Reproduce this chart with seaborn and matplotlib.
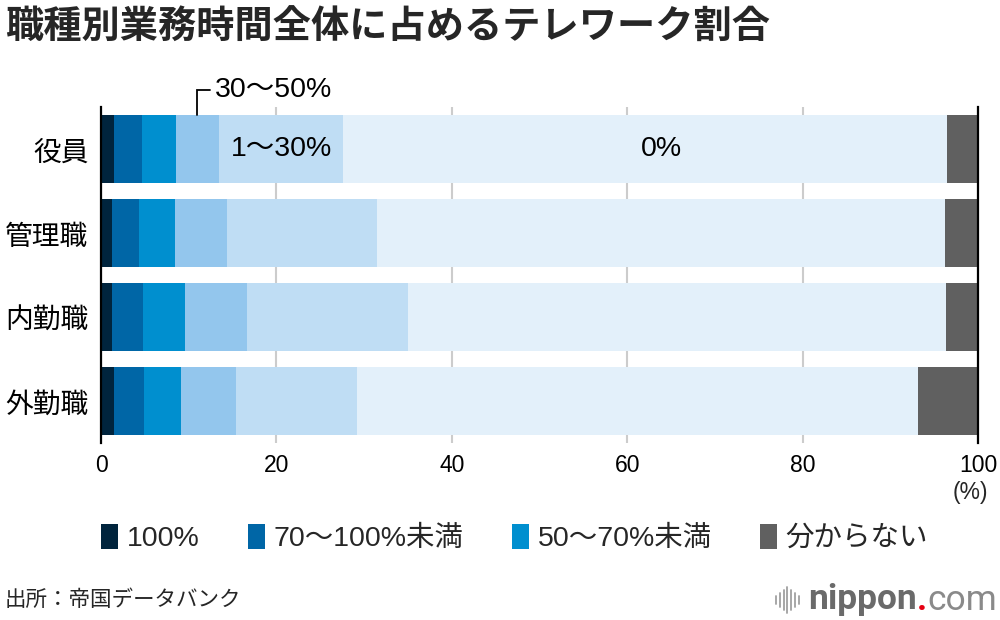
import numpy as np
import matplotlib.pyplot as plt
import seaborn as sns
from matplotlib.patches import Patch
from matplotlib.lines import Line2D

# data (%)
categories = ["役員", "管理職", "内勤職", "外勤職"]
p100 = [1.5, 1.3, 1.3, 1.5]
p70_100 = [3.2, 3.0, 3.5, 3.4]
p50_70 = [3.9, 4.1, 4.8, 4.2]
p30_50 = [4.9, 6.0, 7.1, 6.3]
p1_30 = [14.1, 17.1, 18.3, 13.8]
p0 = [68.9, 64.7, 61.4, 64.0]
unknown = [3.5, 3.8, 3.6, 6.8]

segment_labels = ["100%", "70〜100%未満", "50〜70%未満", "30〜50%", "1〜30%", "0%", "分からない"]
colors = ["#00243d", "#0066a6", "#008fcf", "#93c6ed", "#bfddf4", "#e3f0fa", "#606060"]
xticks = [0, 20, 40, 60, 80, 100]

sns.set_theme(style="white")
plt.rcParams["font.family"] = ["Liberation Sans", "Noto Sans CJK JP", "DejaVu Sans"]
jp = ["Noto Sans CJK JP", "DejaVu Sans"]

fig = plt.figure(figsize=(10, 6.2), dpi=100)
ax = fig.add_axes([0.101, 0.2855, 0.877, 0.5419])

values = np.array([p100, p70_100, p50_70, p30_50, p1_30, p0, unknown])
cum = values.cumsum(axis=0)

# stacked bars: draw cumulative totals from the longest down
for i in reversed(range(len(values))):
    sns.barplot(
        x=cum[i],
        y=categories,
        orient="h",
        color=colors[i],
        saturation=1,
        width=0.8,
        linewidth=0,
        errorbar=None,
        ax=ax,
    )

ax.set_xlim(0, 100)
ax.set_ylim(3.5, -0.5)
ax.set_xticks(xticks)
ax.set_xticklabels([str(t) for t in xticks])
ax.set_xlabel("")
ax.set_ylabel("")
ax.xaxis.grid(True, color="#cccccc", linewidth=1.5)
ax.set_axisbelow(True)
ax.tick_params(axis="x", length=0, pad=8, labelsize=16.5, labelcolor="black")
ax.tick_params(axis="y", length=0, pad=9, labelsize=20, labelcolor="black")
for lab in ax.get_yticklabels():
    lab.set_family(jp)

for side in ["top", "bottom"]:
    ax.spines[side].set_visible(False)
for side in ["left", "right"]:
    ax.spines[side].set_color("black")
    ax.spines[side].set_linewidth(1.6)

# inline segment labels on the first row
mid_1_30 = (cum[3][0] + cum[4][0]) / 2
ax.text(mid_1_30, 0, "1〜30%", ha="center", va="center", fontsize=20.5, color="black")
ax.text(63.9, 0, "0%", ha="center", va="center", fontsize=20.5, color="black")

# bracket label for 30-50%
bx = 10.9
ax.plot([bx, bx, 12.4], [-0.4, -0.70, -0.70], color="black", lw=1.3,
        clip_on=False, solid_joinstyle="miter")
ax.text(13.0, -0.70, "30〜50%", ha="left", va="center", fontsize=20.5, color="black")

fig.text(0.988, 1 - 493 / 620, "(%)", ha="right", va="center", fontsize=16.5)

# title
fig.text(0.005, 1 - 27 / 620, "職種別業務時間全体に占めるテレワーク割合",
         ha="left", va="center", fontsize=27.5, fontweight="bold", family=jp)

# legend
leg_idx = [0, 1, 2, 6]
handles = [Patch(facecolor=colors[i], edgecolor="none") for i in leg_idx]
fig.legend(
    handles,
    [segment_labels[i] for i in leg_idx],
    loc="center left",
    bbox_to_anchor=(0.101, 1 - 538 / 620),
    ncol=4,
    frameon=False,
    fontsize=20.5,
    handlelength=0.6,
    handleheight=0.95,
    handletextpad=0.3,
    columnspacing=1.7,
    borderpad=0,
    borderaxespad=0,
)

# source
fig.text(0.005, 1 - 600 / 620, "出所：帝国データバンク", ha="left", va="center",
         fontsize=15.5, family=jp)

# nippon.com mark
yc = 1 - 600 / 620
for k, h in enumerate([8, 14, 20, 26, 20, 14, 8]):
    x = (776 + k * 3.8) / 1000
    fig.add_artist(Line2D([x, x], [yc - h / 2 / 620, yc + h / 2 / 620],
                          color="#a0a0a0", lw=1.3, transform=fig.transFigure))
t1 = fig.text(0.808, yc, "nippon", ha="left", va="center",
              fontsize=25.5, fontweight="bold", color="#6a6a6a", family=["Roboto", "DejaVu Sans"])
t2 = ax.annotate(".", xy=(1, 0), xycoords=t1, ha="left", va="bottom",
                 fontsize=25.5, fontweight="bold", color="#e60012",
                 family=["Roboto", "DejaVu Sans"], annotation_clip=False)
ax.annotate("com", xy=(1, 0), xycoords=t2, ha="left", va="bottom",
            fontsize=25.5, color="#8a8a8a", family=["Roboto", "DejaVu Sans"],
            annotation_clip=False)

fig.savefig("out.png", dpi=100)
